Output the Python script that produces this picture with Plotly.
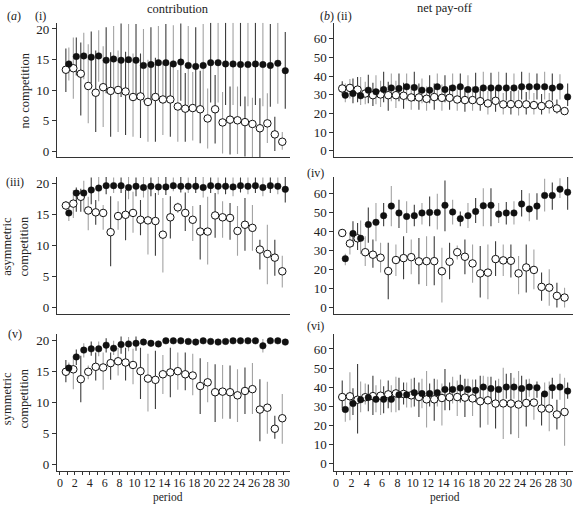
import numpy as np
import plotly.graph_objects as go

periods = list(range(1, 31))

# ---- (i) contribution, no competition
c_none_filled = [14.3,15.5,15.6,15.4,15.6,14.9,15.1,14.9,15.0,14.9,14.05,14.2,14.5,14.5,14.3,14.6,14.05,13.9,14.05,14.5,14.5,14.3,14.3,14.2,14.2,14.3,14.2,14.05,14.4,13.2]
c_none_filled_hi = [17.0,18.6,19.4,19.6,19.8,20.3,20.5,20.9,20.8,20.8,20.0,20.3,20.5,20.8,20.6,20.9,20.5,20.3,20.8,21.0,21.0,21.0,21.0,21.0,21.0,21.0,21.0,20.8,21.0,19.5]
c_none_filled_lo = [11.6,12.4,11.8,11.2,11.4,9.5,9.7,8.9,9.2,9.0,8.1,8.1,8.5,8.2,8.0,8.3,7.6,7.5,7.3,8.0,8.0,7.6,7.6,7.4,7.4,7.6,7.4,7.3,7.8,7.0]
c_none_open = [13.35,13.6,12.7,10.7,9.6,10.5,9.9,10.05,9.8,8.9,9.0,8.1,8.9,8.5,8.5,7.35,7.0,7.1,6.9,5.4,6.9,4.75,5.2,5.1,4.8,4.5,3.8,4.6,2.8,1.6]
c_none_open_hi = [16.8,18.6,17.8,17.5,16.5,17.2,16.2,16.5,16.3,16.0,16.0,15.0,15.3,14.5,14.5,13.3,12.8,13.0,13.2,10.3,12.5,9.7,10.6,10.6,9.0,8.8,8.7,9.5,5.7,3.2]
c_none_open_lo = [9.7,8.6,5.9,4.6,3.2,4.0,2.4,3.2,2.7,2.4,2.2,1.6,1.6,2.7,2.4,1.6,1.6,1.8,1.35,0.5,1.3,-0.3,-0.5,-0.4,-0.8,-1.1,-1.1,1.4,0.1,0.3]

# ---- (ii) net pay-off, no competition
p_none_filled = [29.8,30.7,29.5,32.5,31.6,32.8,33.7,33.4,34.3,33.9,32.5,32.5,34.3,32.8,33.7,34.3,32.8,32.8,33.7,33.7,33.7,33.7,33.7,34.3,34.3,34.3,34.3,33.6,34.3,28.9]
p_none_filled_hi = [36.0,38.7,39.6,40.8,40.5,42.3,41.4,41.4,41.4,42.3,38.7,40.5,41.4,40.5,41.4,41.4,40.5,41.8,42.3,41.8,42.3,41.8,41.4,42.3,41.8,41.4,42.3,41.4,41.0,36.0]
p_none_filled_lo = [26.0,25.5,24.5,25.5,25.0,26.0,26.5,26.5,27.0,26.5,25.5,25.5,27.0,26.0,27.0,27.5,26.0,26.0,27.0,27.0,27.0,27.0,27.0,27.5,27.5,27.5,27.5,27.0,27.5,24.0]
p_none_open = [33.4,33.7,32.8,30.7,29.8,30.2,29.8,29.8,29.5,28.6,28.6,27.9,28.8,28.4,28.4,27.5,27.2,27.2,26.6,25.4,26.8,24.9,25.0,25.0,24.9,24.5,24.0,24.9,22.7,21.3]
p_none_open_hi = [37.3,38.5,39.5,37.0,36.5,37.5,37.0,37.5,36.5,35.5,36.0,34.5,36.0,35.5,35.0,34.5,34.0,34.5,33.0,32.0,34.0,31.0,32.0,32.5,31.5,31.0,30.5,31.0,27.5,23.5]
p_none_open_lo = [29.8,28.0,26.0,25.0,24.0,23.5,21.5,23.0,22.5,22.0,22.0,21.5,22.0,21.5,22.0,21.5,21.0,21.5,21.5,19.5,21.0,19.5,19.5,19.0,19.5,19.5,19.5,20.0,20.0,20.0]

# ---- (iii) contribution, asymmetric competition
c_asym_filled = [15.3,18.5,18.5,19.0,19.3,19.7,19.7,19.7,19.4,19.6,19.4,19.6,19.5,19.5,19.7,19.6,19.6,19.6,19.4,19.7,19.6,19.6,19.5,19.7,19.6,19.7,19.4,19.7,19.6,19.1]
c_asym_filled_hi = [16.4,19.4,20.5,21.0,21.2,21.2,21.0,21.0,21.2,21.0,21.2,21.0,21.2,21.2,21.0,21.2,21.0,21.2,21.2,21.0,21.0,21.0,21.0,21.0,21.0,21.0,21.0,21.0,21.0,21.2]
c_asym_filled_lo = [14.0,15.5,15.5,16.7,17.2,18.3,18.5,18.5,17.5,18.0,17.8,18.0,18.2,18.2,18.8,18.6,18.5,18.5,17.8,18.5,18.3,18.3,18.0,18.6,18.3,18.5,18.0,18.5,18.3,17.0]
c_asym_open = [16.5,16.8,17.9,15.7,15.4,15.3,12.2,14.8,15.0,15.3,14.2,14.1,14.0,11.8,14.6,16.2,15.3,14.2,12.3,12.3,14.9,14.6,14.5,12.4,13.4,12.9,9.4,8.7,8.1,5.9]
c_asym_open_hi = [17.2,19.0,19.2,17.9,17.4,16.6,18.0,17.2,19.0,18.7,17.4,19.3,18.5,17.7,18.0,17.0,18.6,16.4,16.6,17.9,18.5,17.2,16.9,16.4,17.7,16.6,11.0,13.4,11.0,8.4]
c_asym_open_lo = [15.8,14.5,15.5,12.5,13.4,12.6,6.7,12.6,10.9,12.1,11.7,8.6,8.4,5.7,11.2,15.3,12.4,10.8,7.8,7.0,11.3,11.3,11.0,8.4,9.2,9.2,6.2,3.8,5.2,3.3]

# ---- (iv) net pay-off, asymmetric competition
p_asym_filled = [25.6,38.8,36.3,43.5,44.7,48.2,53.2,49.6,47.8,48.2,49.6,49.9,49.9,53.6,50.1,46.6,48.2,50.4,53.4,53.6,49.0,49.6,49.6,54.3,51.7,53.2,58.8,58.8,62.1,60.5]
p_asym_filled_hi = [28.2,45.2,45.6,52.5,54.8,54.8,63.8,56.5,55.7,53.9,54.8,58.3,59.7,66.6,56.5,50.4,54.8,57.4,62.6,62.6,54.8,55.3,55.7,61.7,60.0,60.0,67.5,65.6,67.8,68.5]
p_asym_filled_lo = [22.1,32.0,28.0,33.9,34.8,42.6,42.6,41.7,39.1,42.6,43.5,42.6,40.9,40.0,43.5,42.6,41.7,44.3,42.6,42.6,44.3,43.5,43.5,47.8,45.2,46.1,50.4,51.3,57.4,51.3]
p_asym_open = [39.1,33.6,36.3,29.0,27.7,26.1,19.1,24.9,25.9,26.4,24.2,24.3,24.3,19.0,24.0,29.0,26.6,23.1,17.9,18.3,25.4,24.7,24.5,17.9,21.0,19.7,10.8,10.4,6.1,5.2]
p_asym_open_hi = [40.9,38.3,44.3,37.4,35.7,33.9,33.9,33.0,37.4,35.7,36.5,37.4,37.4,31.3,33.9,32.5,35.7,33.0,32.2,33.0,34.8,33.0,33.0,27.0,33.0,30.4,18.3,20.0,13.0,10.4]
p_asym_open_lo = [37.7,27.8,30.1,21.7,20.9,18.3,4.3,16.5,14.8,17.4,12.2,11.3,11.7,2.6,14.8,25.2,17.4,13.0,5.2,4.3,16.5,16.5,15.7,7.0,7.8,9.6,3.5,0.9,0.0,0.0]

# ---- (v) contribution, symmetric competition
c_sym_filled = [15.5,17.3,18.4,18.6,18.6,19.2,18.7,19.3,19.4,19.5,19.7,19.5,19.4,19.9,19.9,19.9,19.8,19.7,19.9,19.8,19.7,19.8,19.9,19.9,19.9,19.9,19.1,19.9,19.9,19.7]
c_sym_filled_hi = [16.4,18.5,19.5,19.8,19.8,20.3,19.9,20.6,20.5,20.6,20.1,20.0,19.9,20.1,20.1,20.1,20.0,20.0,20.1,20.0,20.0,20.0,20.1,20.1,20.1,20.1,20.2,20.1,20.1,20.0]
c_sym_filled_lo = [14.5,16.0,17.2,17.5,17.4,18.0,17.6,17.8,18.2,18.3,19.3,19.0,18.9,19.7,19.7,19.7,19.5,19.2,19.7,19.5,19.4,19.5,19.7,19.7,19.7,19.7,18.0,19.7,19.7,19.4]
c_sym_open = [14.9,15.3,13.7,14.9,15.7,15.6,16.3,16.6,16.4,16.0,15.0,13.8,13.6,14.5,14.8,15.0,14.5,14.3,12.6,13.2,11.6,11.7,11.6,11.1,11.8,12.1,8.8,9.1,5.7,7.4]
c_sym_open_hi = [16.8,17.5,17.5,15.9,18.0,18.0,18.0,18.8,18.8,18.6,18.8,17.8,18.3,17.6,18.8,18.0,18.0,17.8,17.1,16.5,16.1,16.0,15.9,15.3,15.6,16.3,13.7,13.3,7.8,11.3]
c_sym_open_lo = [13.2,12.1,10.0,13.7,13.5,12.0,13.6,14.3,13.5,12.9,10.5,8.5,8.9,11.3,10.8,12.0,11.9,11.1,8.1,10.0,6.8,7.3,7.3,6.8,8.1,8.1,3.7,4.9,4.1,3.3]

# ---- (vi) net pay-off, symmetric competition
p_sym_filled = [28.4,31.5,33.5,34.6,33.7,33.7,33.7,36.1,36.1,37.2,36.7,36.7,37.2,38.9,38.9,39.6,38.9,38.4,40.1,39.3,38.9,40.1,40.1,39.3,40.1,39.8,36.5,39.8,40.1,38.0]
p_sym_filled_hi = [33.5,39.5,43.0,41.5,41.0,40.5,41.0,45.0,42.5,45.0,44.5,42.0,44.0,49.5,45.5,46.5,44.5,44.0,46.0,45.5,44.5,47.0,45.0,46.0,44.5,43.0,42.5,45.0,47.0,42.5]
p_sym_filled_lo = [22.0,25.5,27.0,27.5,27.0,26.5,27.0,28.0,29.5,30.0,29.0,30.0,30.0,28.0,31.5,32.0,33.0,32.0,34.0,33.0,33.0,34.0,34.0,33.0,35.0,34.5,30.0,34.0,33.5,34.0]
p_sym_open = [34.9,35.3,33.5,34.8,35.4,35.6,36.3,36.8,36.5,35.8,34.9,33.7,33.7,34.4,34.8,34.9,34.6,34.2,32.7,33.2,31.5,31.6,31.5,31.0,31.8,32.0,28.9,28.9,25.8,27.1]
p_sym_open_hi = [43.6,47.9,52.2,42.0,46.0,44.0,43.5,45.5,42.5,44.5,42.5,48.5,44.5,42.0,42.5,43.5,44.5,44.0,46.0,45.5,43.5,50.2,47.5,48.5,44.0,41.5,37.0,43.0,33.5,45.0]
p_sym_open_lo = [28.9,22.8,15.9,31.0,25.5,25.5,29.0,27.0,31.0,29.5,24.5,19.0,22.5,20.0,28.0,25.0,24.5,25.0,19.0,20.5,18.5,13.0,15.5,13.5,19.5,23.0,20.0,17.0,18.0,9.5]

period_ticks = list(range(0, 31, 2))
contrib_ticks = [0, 5, 10, 15, 20]
payoff_ticks = [0, 10, 20, 30, 40, 50, 60]

DARK = "#3c3c3c"
GREY = "#a3a3a3"
FONT = "Liberation Serif"
W, H = 574, 506

panels = [
    (1, 1, c_none_filled, c_none_filled_hi, c_none_filled_lo, c_none_open, c_none_open_hi, c_none_open_lo),
    (1, 2, p_none_filled, p_none_filled_hi, p_none_filled_lo, p_none_open, p_none_open_hi, p_none_open_lo),
    (2, 1, c_asym_filled, c_asym_filled_hi, c_asym_filled_lo, c_asym_open, c_asym_open_hi, c_asym_open_lo),
    (2, 2, p_asym_filled, p_asym_filled_hi, p_asym_filled_lo, p_asym_open, p_asym_open_hi, p_asym_open_lo),
    (3, 1, c_sym_filled, c_sym_filled_hi, c_sym_filled_lo, c_sym_open, c_sym_open_hi, c_sym_open_lo),
    (3, 2, p_sym_filled, p_sym_filled_hi, p_sym_filled_lo, p_sym_open, p_sym_open_hi, p_sym_open_lo),
]

col_px = {1: (56, 290), 2: (334, 573)}
row_px = {1: (22, 157), 2: (177, 315), 3: (335, 473)}
xranges = {1: [-0.4, 30.9], 2: [-0.22, 30.9]}
yranges = {(1, 1): [-0.9, 21.0], (2, 1): [-1.0, 21.1], (3, 1): [-1.15, 21.0],
           (1, 2): [-3.3, 68.5], (2, 2): [-3.5, 68.5], (3, 2): [-3.8, 67.8]}

fig = go.Figure()
layout = dict(width=W, height=H, margin=dict(l=0, r=0, t=0, b=0),
              paper_bgcolor="white", plot_bgcolor="white", showlegend=False,
              font=dict(family=FONT, size=12, color="#222"))

per = np.array(periods)
for i, (r, c, f, fhi, flo, o, ohi, olo) in enumerate(panels):
    idx = i + 1
    xa = "x" if idx == 1 else f"x{idx}"
    ya = "y" if idx == 1 else f"y{idx}"
    f, fhi, flo = map(np.array, (f, fhi, flo))
    o, ohi, olo = map(np.array, (o, ohi, olo))
    for vals, hi, lo, shift, odd_col, even_col in (
            (o, ohi, olo, -0.2, DARK, GREY),
            (f, fhi, flo, 0.2, GREY, DARK)):
        for parity, col in ((1, odd_col), (0, even_col)):
            m = (per % 2) == parity
            fig.add_trace(go.Scatter(
                x=per[m] + shift, y=vals[m], mode="markers", xaxis=xa, yaxis=ya,
                marker=dict(size=1, color="rgba(0,0,0,0)"),
                error_y=dict(type="data", symmetric=False,
                             array=(hi - vals)[m], arrayminus=(vals - lo)[m],
                             color=col, thickness=1.1, width=0),
                hoverinfo="skip"))
    fig.add_trace(go.Scatter(
        x=per - 0.2, y=o, mode="markers", xaxis=xa, yaxis=ya,
        marker=dict(size=7.5, color="white", line=dict(color="#111", width=1))))
    fig.add_trace(go.Scatter(
        x=per + 0.2, y=f, mode="markers", xaxis=xa, yaxis=ya,
        marker=dict(size=6.5, color="#111", line=dict(color="#111", width=0.5))))

    x0, x1 = col_px[c]
    y0, y1 = row_px[r]
    xkey = "xaxis" if idx == 1 else f"xaxis{idx}"
    ykey = "yaxis" if idx == 1 else f"yaxis{idx}"
    xaxis = dict(domain=[x0 / W, x1 / W], range=xranges[c], anchor=ya,
                 showline=True, linecolor="#333", linewidth=1, showgrid=False,
                 zeroline=False, fixedrange=True)
    if r == 3:
        xaxis.update(tickvals=period_ticks, ticks="outside", ticklen=3,
                     tickcolor="#333", tickwidth=1, tickangle=0,
                     ticklabelstandoff=-3,
                     tickfont=dict(family=FONT, size=12, color="#222"),
                     minor=dict(dtick=1, tick0=0, ticks="outside", ticklen=3,
                                tickcolor="#333", tickwidth=1))
    else:
        xaxis.update(ticks="", showticklabels=False)
    ytick = contrib_ticks if c == 1 else payoff_ticks
    yaxis = dict(domain=[1 - y1 / H, 1 - y0 / H], range=yranges[(r, c)], anchor=xa,
                 tickvals=ytick, showline=True, linecolor="#333", linewidth=1,
                 ticks="outside", ticklen=4, tickcolor="#333", tickwidth=1,
                 showgrid=False, zeroline=False, fixedrange=True,
                 tickfont=dict(family=FONT, size=13, color="#222"))
    layout[xkey] = xaxis
    layout[ykey] = yaxis

fig.update_layout(**layout)


def ann(text, px, py, size=12, angle=0, yanchor="middle"):
    fig.add_annotation(text=text, x=px / W, y=1 - py / H, xref="paper", yref="paper",
                       showarrow=False, xanchor="center", yanchor=yanchor,
                       textangle=angle, borderpad=0,
                       font=dict(family=FONT, size=size, color="#222"))


ann("contribution", 177, 8, 12.5)
ann("net pay-off", 445, 7, 12.5)
ann("(<i>a</i>)", 13, 15)
ann("(i)", 40, 15)
ann("(<i>b</i>)", 327, 15)
ann("(ii)", 344, 15)
ann("(iii)", 14, 182)
ann("(iv)", 315, 173)
ann("(v)", 14, 335)
ann("(vi)", 315, 327)
ann("no competition", 25, 90, 12.5, -90)
ann("asymmetric<br>competition", 14, 247, 12.5, -90)
ann("symmetric<br>competition", 14, 400, 12.5, -90)
ann("period", 167, 507, 11.5, yanchor="bottom")
ann("period", 445, 507, 11.5, yanchor="bottom")

fig.write_html("out.html", config={"displayModeBar": False},
               post_script="document.body.style.margin='0px';document.body.style.padding='0px';")
